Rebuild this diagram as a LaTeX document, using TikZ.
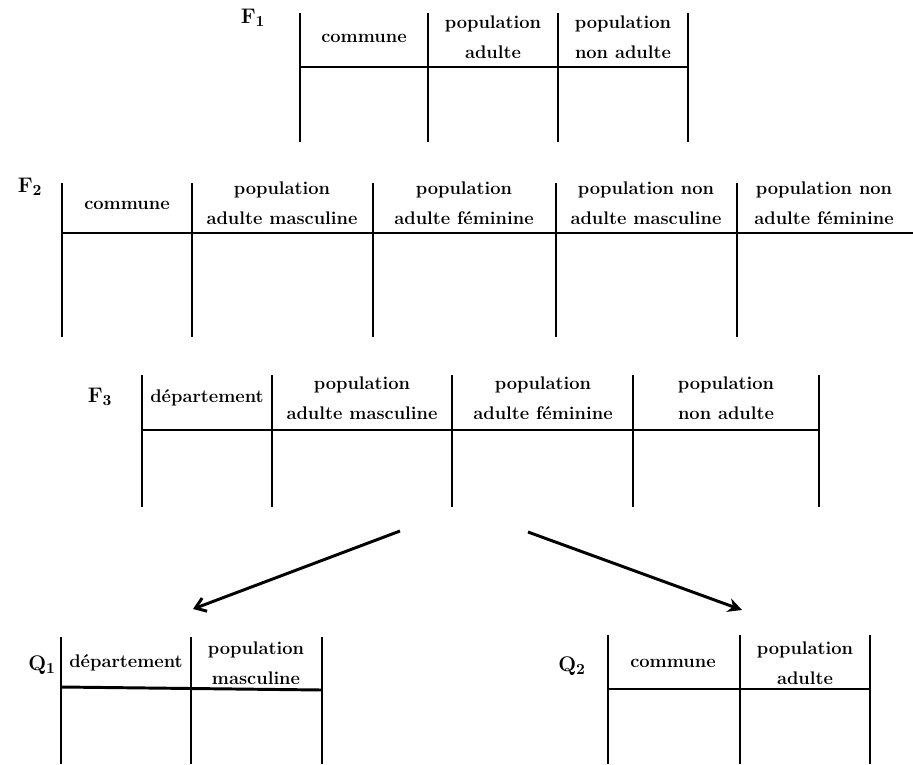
\documentclass[tikz,border=0pt]{standalone}
\usetikzlibrary{arrows.meta}
\begin{document}
\begin{tikzpicture}[
    x=0.025cm, y=-0.025cm,
    rule/.style={line width=2.1pt},
    head/.style={font=\fontsize{13}{21}\selectfont\bfseries, align=center, inner sep=1pt},
    tname/.style={font=\fontsize{15}{17}\selectfont\bfseries},
    >=Stealth
  ]
  \useasboundingbox (0,0) rectangle (913,764);
  % Table F1
  \node[tname] (f1) at (253,18) {F$_{\mathbf 1}$};
  \foreach \x in {300,428,558,688} {
    \draw[rule] (\x,13) -- (\x,142);
  }
  \draw[rule] (300,67) -- (688,67);
  \node[head] (f1c) at (364,38) {commune};
  \node[head] (f1a) at (493,37) {population\\adulte};
  \node[head] (f1n) at (623,37) {population\\non adulte};
  % Table F2
  \node[tname] (f2) at (30,187) {F$_{\mathbf 2}$};
  \foreach \x in {62,192,373,556,737} {
    \draw[rule] (\x,183) -- (\x,337);
  }
  \draw[rule] (62,233) -- (913,233);
  \node[head] (f2c) at (127,205) {commune};
  \node[head] (f2am) at (282,203) {population\\adulte masculine};
  \node[head] (f2af) at (464,203) {population\\adulte féminine};
  \node[head] (f2nm) at (646,203) {population non\\adulte masculine};
  \node[head] (f2nf) at (824,203) {population non\\adulte féminine};
  % Table F3
  \node[tname] (f3) at (100,397) {F$_{\mathbf 3}$};
  \foreach \x in {142,272,452,633,819} {
    \draw[rule] (\x,375) -- (\x,507);
  }
  \draw[rule] (142,430) -- (819,430);
  \node[head] (f3d) at (207,398) {département};
  \node[head] (f3am) at (362,398) {population\\adulte masculine};
  \node[head] (f3af) at (543,398) {population\\adulte féminine};
  \node[head] (f3n) at (726,398) {population\\non adulte};
  % Arrows
  \coordinate (lfrom) at (400,531);
  \coordinate (lto) at (193,609);
  \coordinate (rfrom) at (528,532);
  \coordinate (rto) at (742,610);
  \draw[rule, -{Straight Barb[length=7pt, width=10pt]}] (lfrom) -- (lto);
  \draw[rule, -{Stealth[length=10pt, width=10pt]}] (rfrom) -- (rto);
  % Table Q1
  \node[tname] (q1) at (42,665) {Q$_{\mathbf 1}$};
  \foreach \x in {61,191,322} {
    \draw[rule] (\x,637) -- (\x,764);
  }
  \draw[rule] (61,687) -- (322,690);
  \node[head] (q1d) at (126,663) {département};
  \node[head] (q1m) at (256,663) {population\\masculine};
  % Table Q2
  \node[tname] (q2) at (572,666) {Q$_{\mathbf 2}$};
  \foreach \x in {608,740,870} {
    \draw[rule] (\x,635) -- (\x,764);
  }
  \draw[rule] (608,689) -- (870,689);
  \node[head] (q2c) at (673,663) {commune};
  \node[head] (q2a) at (805,663) {population\\adulte};
\end{tikzpicture}
\end{document}
